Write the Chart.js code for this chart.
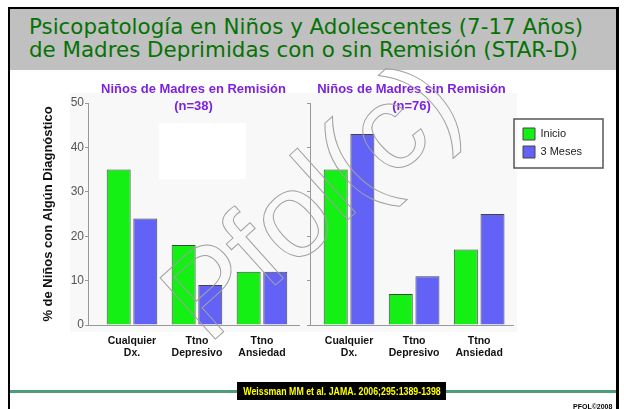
<!DOCTYPE html>
<html>
<head>
<meta charset="utf-8">
<script src="https://cdn.jsdelivr.net/npm/chart.js@4.4.1/dist/chart.umd.min.js"></script>
<style>
  body { margin: 0; width: 624px; height: 409px; overflow: hidden; background: #fff; position: relative; font-family: "Liberation Sans", Arial, sans-serif; }
  #frame { position: absolute; left: 8px; top: 7px; width: 606px; height: 410px; border: 2px solid #000; border-right-width: 3px; border-bottom: none; }
  #head { position: absolute; left: 10px; top: 9px; width: 606px; height: 61px; background: #c0c0c0; }
  #head h1 { margin: 0; padding: 6px 0 0 19px; font: 21.4px/23px "DejaVu Sans", sans-serif; color: #067206; white-space: nowrap; }
  #left, #right { position: absolute; top: 0; }
  #left { left: 0; }
  #right { left: 292px; }
  #rule { position: absolute; left: 10px; top: 390px; width: 606px; height: 3px; background: #4f9c79; }
  #cite { position: absolute; left: 237px; top: 382px; width: 209px; height: 18px; background: #000; overflow: hidden; }
  #cite span { position: absolute; left: 50%; top: 0; white-space: nowrap; color: #ffff00; font: bold 11px/18px "Liberation Sans", Arial, sans-serif; transform: translateX(-50%) scaleX(0.8); }
  #mark { position: absolute; left: 573px; top: 403px; font: bold 7px "Liberation Sans", Arial, sans-serif; color: #000; }
  #wm { position: absolute; left: 0; top: 0; pointer-events: none; }
</style>
</head>
<body>
<div id="frame"></div>
<div id="head"><h1>Psicopatología en Niños y Adolescentes (7-17 Años)<br>de Madres Deprimidas con o sin Remisión (STAR-D)</h1></div>
<canvas id="left" width="305" height="409"></canvas>
<canvas id="right" width="318" height="409"></canvas>
<svg id="wm" width="624" height="409"><text x="310" y="240" text-anchor="middle" transform="rotate(-42 310 200)" font-family="Liberation Sans, Arial, sans-serif" font-size="120" fill="none" stroke="#a0a0a0" stroke-width="1">Pfol(c)</text></svg>
<div id="rule"></div>
<div id="cite"><span>Weissman MM et al. JAMA. 2006;295:1389-1398</span></div>
<div id="mark">PFOL©2008</div>
<script>
const categories = [['Cualquier', 'Dx.'], ['Ttno', 'Depresivo'], ['Ttno', 'Ansiedad']];
const seriesNames = ['Inicio', '3 Meses'];
const remisionInicio = [35, 18, 12];
const remision3Meses = [24, 9, 12];
const sinRemisionInicio = [35, 7, 17];
const sinRemision3Meses = [43, 11, 25];
const yAxisTitle = '% de Niños con Algún Diagnóstico';
const titleRemision = ['Niños de Madres en Remisión', '(n=38)'];
const titleSinRemision = ['Niños de Madres sin Remisión', '(n=76)'];

const GREEN = '#14ef14';
const BLUE = '#6262f6';
const FONT = '"Liberation Sans", Arial, sans-serif';

// Light backdrop behind each panel (plus the blank patch in the left one).
const panelBackground = {
  id: 'panelBackground',
  beforeDraw(chart, args, o) {
    const { ctx, chartArea: a } = chart;
    ctx.save();
    ctx.fillStyle = '#f8f8f8';
    ctx.fillRect(a.left - o.left, a.top - 10, a.width + o.left + o.right, a.height + 17);
    if (o.blank) {
      ctx.fillStyle = '#ffffff';
      ctx.fillRect(a.left + 71, a.top + 20, 87, 56);
    }
    ctx.restore();
  },
};

// Move the legend to the right of the plot and frame it.
const legendBox = {
  id: 'legendBox',
  afterLayout(chart) {
    const lg = chart.legend;
    if (!lg || !lg.options.display) return;
    lg.left = chart.chartArea.right + 4;
    lg.top = 122;
    lg.width = 85;
    lg.height = 50;
    lg.right = lg.left + lg.width;
    lg.bottom = lg.top + lg.height;
  },
  afterDraw(chart) {
    const lg = chart.legend;
    if (!lg || !lg.options.display) return;
    const { ctx } = chart;
    ctx.save();
    ctx.strokeStyle = '#555';
    ctx.lineWidth = 1.5;
    ctx.strokeRect(lg.left - 3, lg.top - 3, 89, 49);
    ctx.restore();
  },
};

function makePanel(id, title, inicio, meses, cfg) {
  const toPoints = (arr) => arr.map((v, i) => ({ x: i + 1, y: v }));
  return new Chart(document.getElementById(id), {
    type: 'bar',
    data: {
      datasets: [
        { label: seriesNames[0], data: toPoints(inicio), backgroundColor: GREEN, borderColor: '#444', borderWidth: 1 },
        { label: seriesNames[1], data: toPoints(meses), backgroundColor: BLUE, borderColor: '#444', borderWidth: 1 },
      ],
    },
    options: {
      responsive: false,
      animation: false,
      categoryPercentage: 0.82,
      barPercentage: 0.9,
      layout: { padding: { top: 70, bottom: 39, left: cfg.padLeft, right: cfg.padRight } },
      plugins: {
        title: {
          display: true,
          text: title,
          fullSize: false,
          color: '#7d22dc',
          font: { family: FONT, size: 13, weight: 'bold', lineHeight: '17px' },
          padding: { top: 10.5, bottom: -11.5 },
        },
        legend: {
          display: cfg.legend,
          position: 'chartArea',
          align: 'start',
          labels: {
            boxWidth: 12,
            boxHeight: 12,
            padding: 6,
            color: '#222',
            font: { family: FONT, size: 11 },
          },
        },
        tooltip: { enabled: false },
        panelBackground: { left: cfg.bgLeft, right: cfg.bgRight, blank: cfg.blank },
      },
      scales: {
        x: {
          type: 'linear',
          offset: false,
          min: cfg.xMin,
          max: cfg.xMax,
          afterBuildTicks(scale) { scale.ticks = categories.map((c, i) => ({ value: i + 1 })); },
          afterFit(scale) { scale.height = 45; },
          grid: { display: false, drawTicks: false, offset: false },
          border: { display: true, color: '#999', width: 1 },
          ticks: {
            autoSkip: false,
            maxRotation: 0,
            padding: 10,
            color: '#111',
            font: { family: FONT, size: 10.5, weight: 'bold', lineHeight: 1.15 },
            callback: (v) => categories[v - 1] || '',
          },
        },
        y: {
          min: 0,
          max: 50,
          afterFit(scale) { scale.width = cfg.yWidth; },
          grid: { display: true, drawOnChartArea: false, drawTicks: true, tickLength: 3, color: '#999' },
          border: { display: true, color: '#999', width: 1 },
          ticks: {
            display: cfg.yLabels,
            stepSize: 10,
            padding: 1,
            color: '#555',
            font: { family: FONT, size: 12 },
          },
          title: {
            display: cfg.yLabels,
            text: yAxisTitle,
            color: '#111',
            font: { family: FONT, size: 13, weight: 'bold' },
            padding: { top: 4.5, bottom: 0 },
          },
        },
      },
    },
    plugins: [panelBackground, legendBox],
  });
}

makePanel('left', titleRemision, remisionInicio, remision3Meses, {
  padLeft: 36, padRight: 6, yWidth: 52, yLabels: true, legend: false,
  xMin: 0.323, xMax: 3.57, bgLeft: 18, bgRight: 6, blank: true,
});
makePanel('right', titleSinRemision, sinRemisionInicio, sinRemision3Meses, {
  padLeft: 13, padRight: 97, yWidth: 5, yLabels: false, legend: true,
  xMin: 0.4, xMax: 3.52, bgLeft: 10, bgRight: 4, blank: false,
});
</script>
</body>
</html>
